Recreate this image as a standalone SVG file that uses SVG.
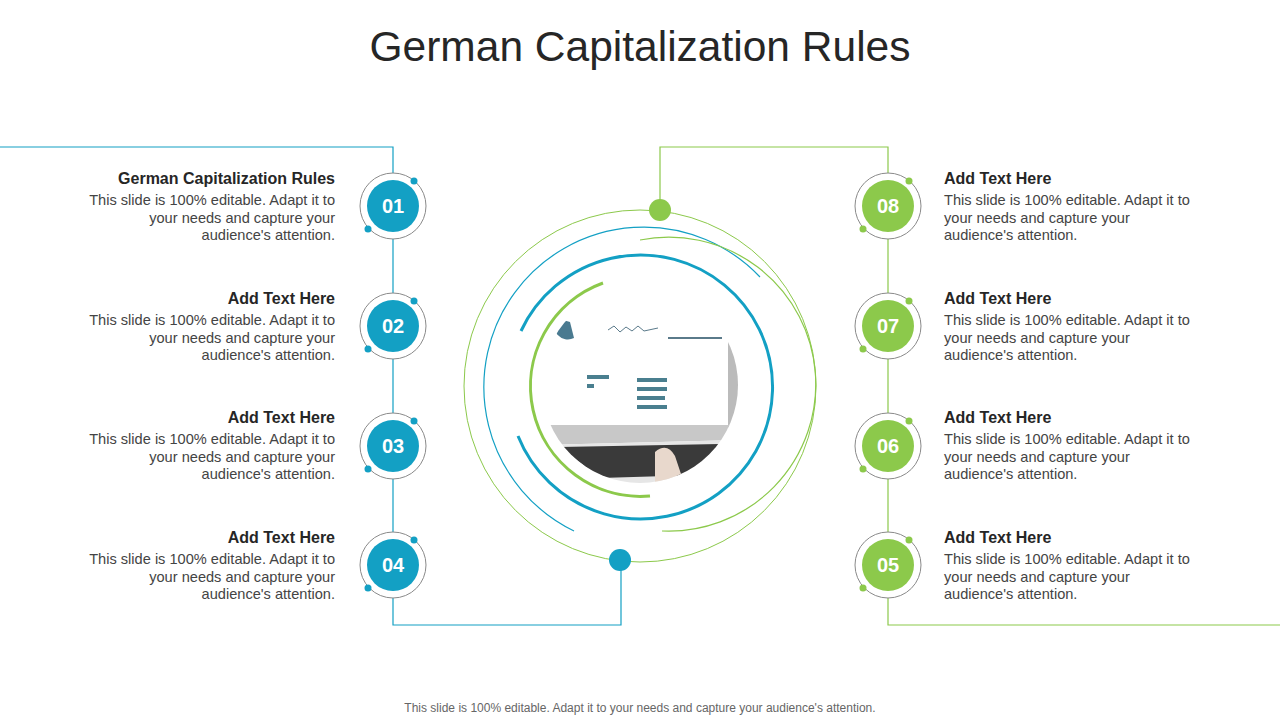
<svg xmlns="http://www.w3.org/2000/svg" width="1280" height="720" viewBox="0 0 1280 720">
<style>
text{font-family:"Liberation Sans",Arial,sans-serif}
.h{font-size:16px;font-weight:bold;fill:#262626}
.b{font-size:14.6px;fill:#444}
.n{font-size:20px;font-weight:bold;fill:#fff}
.ring{fill:#fff;stroke:#8a8a8a;stroke-width:1}
.bl{fill:#13a0c4}.gr{fill:#8cc94b}
</style>
<defs>
<clipPath id="pc"><circle cx="640" cy="385" r="98"/></clipPath>
<g id="lnode"><circle r="33" class="ring"/><circle r="26" class="bl"/><circle cx="21" cy="-25" r="3.5" class="bl"/><circle cx="-25" cy="23" r="3.5" class="bl"/></g>
<g id="rnode"><circle r="33" class="ring"/><circle r="26" class="gr"/><circle cx="21" cy="-25" r="3.5" class="gr"/><circle cx="-25" cy="23" r="3.5" class="gr"/></g>
</defs>
<rect width="1280" height="720" fill="#fff"/>
<text x="640" y="61" text-anchor="middle" font-size="42.5" fill="#262626">German Capitalization Rules</text>
<g id="connectors" fill="none" stroke-width="1.2">
<polyline points="0,147 393,147 393,625 621,625 621,560" stroke="#13a0c4"/>
<polyline points="1280,625 888,625 888,147 660,147 660,210" stroke="#8cc94b"/>
</g>
<g id="center" fill="none">
<circle cx="640" cy="386" r="176" stroke="#8cc94b" stroke-width="1"/>
<path d="M760,277 A160,160 0 1 0 574,531" stroke="#13a0c4" stroke-width="1.2"/>
<path d="M640,240 A147,147 0 1 1 662,531" stroke="#8cc94b" stroke-width="1.2"/>
<path d="M521,331 A132,132 0 1 1 518,436" stroke="#13a0c4" stroke-width="3"/>
<path d="M603,283 A110,110 0 0 0 650,496" stroke="#8cc94b" stroke-width="3"/>
<g clip-path="url(#pc)">
<rect x="540" y="285" width="200" height="200" fill="#fff"/>
<path d="M728,320 L740,330 L740,440 L728,430 Z" fill="#bbb"/>
<path d="M540,425 L730,425 L740,440 L540,445 Z" fill="#c8c8c8"/>
<path d="M540,445 L740,440 L740,485 L540,485 Z" fill="#e6e6e6"/>
<path d="M560,447 L720,444 L700,475 L600,478 Z" fill="#3a3a3a"/>
<path d="M655,452 q12,-10 20,4 l10,30 l-30,5 Z" fill="#e8d8cc"/>
<path d="M556,318 a14,14 0 0 0 18,20 l-4,-16 Z" fill="#4a7a90"/>
<polyline points="608,330 614,326 620,332 626,327 632,331 638,326 644,331 658,328" stroke="#5a7a8a" stroke-width="1"/>
<line x1="668" y1="338" x2="722" y2="338" stroke="#5a7a8a" stroke-width="2"/>
<g fill="#4a7f8f"><rect x="587" y="375" width="22" height="4"/><rect x="587" y="384" width="7" height="4"/><rect x="637" y="378" width="30" height="4"/><rect x="637" y="387" width="30" height="4"/><rect x="637" y="396" width="28" height="4"/><rect x="637" y="405" width="30" height="4"/></g>
</g>
<circle cx="660" cy="210" r="11" class="gr"/>
<circle cx="620" cy="560" r="11" class="bl"/>
</g>
<g id="n01"><use href="#lnode" x="393" y="206"/><text x="393" y="213" text-anchor="middle" class="n">01</text>
<text x="335" y="184" text-anchor="end" class="h">German Capitalization Rules</text><text text-anchor="end" class="b"><tspan x="335" y="205">This slide is 100% editable. Adapt it to</tspan><tspan x="335" y="223">your needs and capture your</tspan><tspan x="335" y="240">audience's attention.</tspan></text></g>
<g id="n02"><use href="#lnode" x="393" y="326"/><text x="393" y="333" text-anchor="middle" class="n">02</text>
<text x="335" y="304" text-anchor="end" class="h">Add Text Here</text><text text-anchor="end" class="b"><tspan x="335" y="325">This slide is 100% editable. Adapt it to</tspan><tspan x="335" y="343">your needs and capture your</tspan><tspan x="335" y="360">audience's attention.</tspan></text></g>
<g id="n03"><use href="#lnode" x="393" y="446"/><text x="393" y="453" text-anchor="middle" class="n">03</text>
<text x="335" y="423" text-anchor="end" class="h">Add Text Here</text><text text-anchor="end" class="b"><tspan x="335" y="444">This slide is 100% editable. Adapt it to</tspan><tspan x="335" y="462">your needs and capture your</tspan><tspan x="335" y="479">audience's attention.</tspan></text></g>
<g id="n04"><use href="#lnode" x="393" y="565"/><text x="393" y="572" text-anchor="middle" class="n">04</text>
<text x="335" y="543" text-anchor="end" class="h">Add Text Here</text><text text-anchor="end" class="b"><tspan x="335" y="564">This slide is 100% editable. Adapt it to</tspan><tspan x="335" y="582">your needs and capture your</tspan><tspan x="335" y="599">audience's attention.</tspan></text></g>
<g id="n08"><use href="#rnode" x="888" y="206"/><text x="888" y="213" text-anchor="middle" class="n">08</text>
<text x="944" y="184" class="h">Add Text Here</text><text class="b"><tspan x="944" y="205">This slide is 100% editable. Adapt it to</tspan><tspan x="944" y="223">your needs and capture your</tspan><tspan x="944" y="240">audience's attention.</tspan></text></g>
<g id="n07"><use href="#rnode" x="888" y="326"/><text x="888" y="333" text-anchor="middle" class="n">07</text>
<text x="944" y="304" class="h">Add Text Here</text><text class="b"><tspan x="944" y="325">This slide is 100% editable. Adapt it to</tspan><tspan x="944" y="343">your needs and capture your</tspan><tspan x="944" y="360">audience's attention.</tspan></text></g>
<g id="n06"><use href="#rnode" x="888" y="446"/><text x="888" y="453" text-anchor="middle" class="n">06</text>
<text x="944" y="423" class="h">Add Text Here</text><text class="b"><tspan x="944" y="444">This slide is 100% editable. Adapt it to</tspan><tspan x="944" y="462">your needs and capture your</tspan><tspan x="944" y="479">audience's attention.</tspan></text></g>
<g id="n05"><use href="#rnode" x="888" y="565"/><text x="888" y="572" text-anchor="middle" class="n">05</text>
<text x="944" y="543" class="h">Add Text Here</text><text class="b"><tspan x="944" y="564">This slide is 100% editable. Adapt it to</tspan><tspan x="944" y="582">your needs and capture your</tspan><tspan x="944" y="599">audience's attention.</tspan></text></g>
<text x="640" y="712" text-anchor="middle" font-size="12" fill="#666">This slide is 100% editable. Adapt it to your needs and capture your audience's attention.</text>
</svg>
